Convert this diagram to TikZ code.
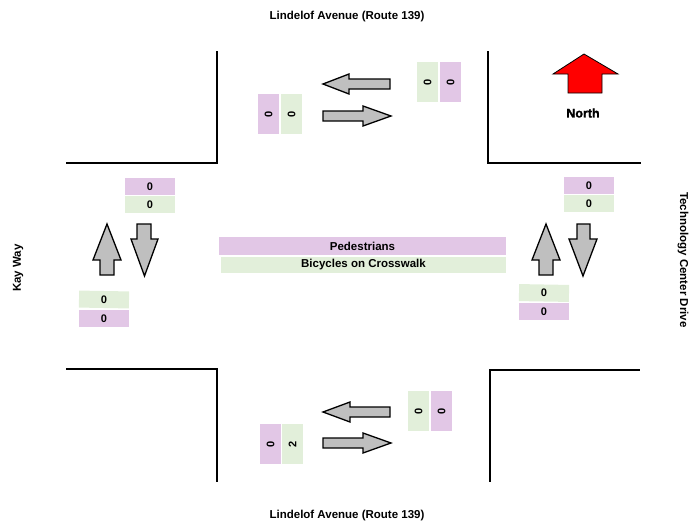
\documentclass[tikz,border=0pt]{standalone}
\usepackage{fontspec}
\setmainfont{Liberation Sans}
\newfontface\heavyfont{Liberation Sans Bold}[FakeBold=1.5]
\begin{document}
\begin{tikzpicture}[x=1pt,y=-1pt,
  road/.style={line width=2.4pt,line cap=rect},
  garrow/.style={draw=black,line width=1.3pt,fill=black!25,line join=miter},
  narrow/.style={draw=black,line width=0.8pt,fill=red},
  pbox/.style={fill=lilac,inner sep=0pt,font=\bfseries\fontsize{11}{12}\selectfont},
  gbox/.style={fill=pale,inner sep=0pt,font=\bfseries\fontsize{11}{12}\selectfont},
  hcount/.style={minimum width=50pt,minimum height=17pt},
  vcount/.style={rotate=90,minimum width=40pt,minimum height=21pt},
  lbl/.style={font=\bfseries\fontsize{11.5}{13}\selectfont,inner sep=0pt}]
\definecolor{lilac}{HTML}{E2C7E6}
\definecolor{pale}{HTML}{E2EFDA}
\useasboundingbox (0,0) rectangle (694,525);
% road names
\node[lbl] (ntitle) at (347,17) {Lindelof Avenue (Route 139)};
\node[lbl] (stitle) at (347,516) {Lindelof Avenue (Route 139)};
\node[lbl,rotate=90] (wtitle) at (18,268) {Kay Way};
\node[lbl,rotate=-90] (etitle) at (683,260) {Technology Center Drive};
% curbs
\draw[road] (67,163) -- (217,163) -- (217,52);
\draw[road] (488,52) -- (488,163) -- (640,163);
\draw[road] (67,369) -- (217,369) -- (217,481);
\draw[road] (490,481) -- (490,370) -- (639,370);
% north arrow
\draw[narrow] (584,54) -- (618,74) -- (602,74) -- (602,93) -- (568,93) -- (568,74) -- (553,74) -- cycle;
\node[font=\heavyfont\fontsize{12.5}{14}\selectfont] (north) at (583,113) {North};
% top approach arrows
\draw[garrow] (323,84) -- (349,74) -- (349,79) -- (390,79) -- (390,89) -- (349,89) -- (349,94) -- cycle;
\draw[garrow] (391,116) -- (363,106) -- (363,111) -- (323,111) -- (323,121) -- (363,121) -- (363,126) -- cycle;
% bottom approach arrows
\draw[garrow] (323,412) -- (350,402) -- (350,407) -- (390,407) -- (390,417) -- (350,417) -- (350,422) -- cycle;
\draw[garrow] (391,443) -- (363,433) -- (363,438) -- (323,438) -- (323,448) -- (363,448) -- (363,453) -- cycle;
% left arrows
\draw[garrow] (107,224) -- (121,260) -- (114,260) -- (114,275) -- (100,275) -- (100,260) -- (93,260) -- cycle;
\draw[garrow] (144.5,276) -- (158,239) -- (151,239) -- (151,224) -- (137,224) -- (137,239) -- (131,239) -- cycle;
% right arrows
\draw[garrow] (546,224) -- (560,260) -- (553,260) -- (553,275) -- (539,275) -- (539,260) -- (532,260) -- cycle;
\draw[garrow] (583,276) -- (597,239) -- (590,239) -- (590,224) -- (577,224) -- (577,239) -- (569,239) -- cycle;
% top counts
\node[pbox,vcount] (tlp) at (268.5,114) {0};
\node[gbox,vcount] (tlg) at (291.5,114) {0};
\node[gbox,vcount] (trg) at (427.5,82) {0};
\node[pbox,vcount] (trp) at (450.5,82) {0};
% bottom counts
\node[gbox,vcount] (brg) at (418.5,411) {0};
\node[pbox,vcount] (brp) at (441.5,411) {0};
\node[pbox,vcount] (blp) at (270.5,444) {0};
\node[gbox,vcount] (blg) at (292.5,444) {2};
% left counts
\node[pbox,hcount] (lup) at (150,186.5) {0};
\node[gbox,hcount] (lug) at (150,204.5) {0};
\node[gbox,hcount,rotate=-1] (llg) at (104,299.5) {0};
\node[pbox,hcount] (llp) at (104,318.5) {0};
% right counts
\node[pbox,hcount] (rup) at (589,185.5) {0};
\node[gbox,hcount] (rug) at (589,203.5) {0};
\node[gbox,hcount,rotate=-1] (rlg) at (544,293) {0};
\node[pbox,hcount] (rlp) at (544,311.5) {0};
% legend
\node[pbox,minimum width=287pt,minimum height=18pt,font=\bfseries\fontsize{11.5}{13}\selectfont] (ped) at (362.5,246) {Pedestrians};
\node[gbox,minimum width=285pt,minimum height=16pt,font=\bfseries\fontsize{11.5}{13}\selectfont] (bic) at (363.5,265) {Bicycles on Crosswalk};
\end{tikzpicture}
\end{document}
